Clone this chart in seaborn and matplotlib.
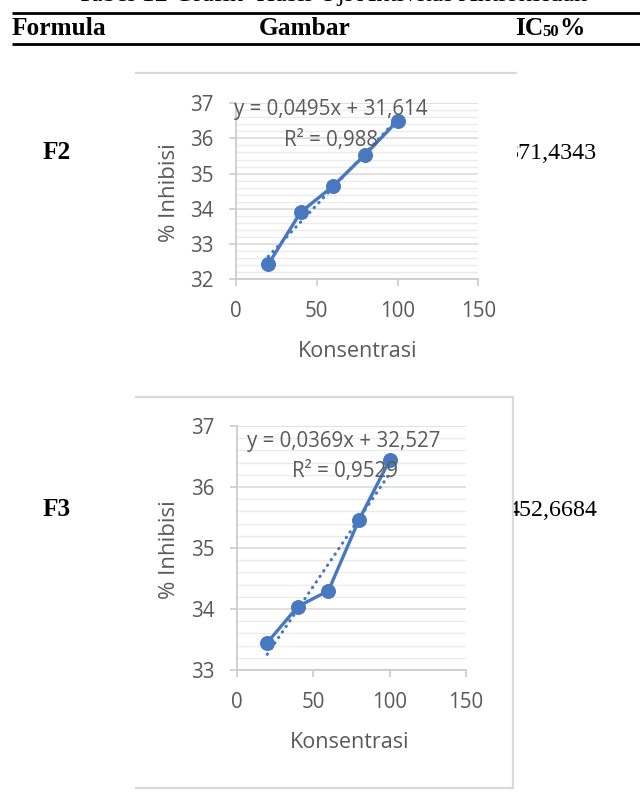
import matplotlib
matplotlib.use("Agg")
import matplotlib.pyplot as plt
import seaborn as sns
import numpy as np
from matplotlib.ticker import MultipleLocator
from matplotlib.patches import Rectangle
from matplotlib.lines import Line2D

# ---------------- data ----------------
konsentrasi = [20, 40, 60, 80, 100]
inhibisi_f2 = [32.42, 33.90, 34.64, 35.54, 36.50]
inhibisi_f3 = [33.45, 34.04, 34.30, 35.46, 36.44]
persamaan_f2 = "y = 0,0495x + 31,614"
r2_f2 = "R² = 0,988"
persamaan_f3 = "y = 0,0369x + 32,527"
r2_f3 = "R² = 0,9529"
formula_labels = ["F2", "F3"]
ic50_labels = ["371,4343", "452,6684"]
header_labels = ["Formula", "Gambar"]
title_text = "Tabel 12 Grafik  Hasil Uji Aktivitas Antioksidan"
x_ticks = [0, 50, 100, 150]

W, H = 640, 792
fig = plt.figure(figsize=(W / 100, H / 100), dpi=100)
fig.patch.set_facecolor("white")

plt.rcParams["font.family"] = ["Open Sans", "DejaVu Sans"]

SERIF = ["Liberation Serif", "DejaVu Serif"]
SANS = ["Open Sans", "DejaVu Sans"]
GRAY_TXT = "#595959"
BLUE = "#4878bf"
BORDER = "#d9d9d9"


def fx(x):
    return x / W


def fy(y):
    return 1 - y / H


def hline(x0, x1, y, color, lw, z=1.2):
    fig.add_artist(Line2D([fx(x0), fx(x1)], [fy(y), fy(y)], color=color, lw=lw,
                          transform=fig.transFigure, zorder=z, solid_capstyle="butt"))


def vline(x, y0, y1, color, lw, z=1.2):
    fig.add_artist(Line2D([fx(x), fx(x)], [fy(y0), fy(y1)], color=color, lw=lw,
                          transform=fig.transFigure, zorder=z, solid_capstyle="butt"))


# ---------------- table header ----------------
fig.text(fx(331.7), fy(0.8), title_text, family=SERIF, fontsize=18.9,
         ha="center", va="baseline", color="black")
hline(12, 640, 12.5, "black", 2.0)
hline(12, 640, 43.5, "black", 2.0)
fig.text(fx(11.7), fy(35), header_labels[0], family=SERIF, weight="bold",
         fontsize=18.3, ha="left", va="baseline")
fig.text(fx(259), fy(35), header_labels[1], family=SERIF, weight="bold",
         fontsize=18.3, ha="left", va="baseline")
fig.text(fx(515), fy(35), "IC", family=SERIF, weight="bold",
         fontsize=18.3, ha="left", va="baseline")
fig.text(fx(542), fy(36.5), "50", family=SERIF, weight="bold",
         fontsize=12.0, ha="left", va="baseline")
fig.text(fx(559), fy(35), "%", family=SERIF, weight="bold",
         fontsize=18.3, ha="left", va="baseline")

# row labels and IC50 values (partly hidden behind chart areas)
fig.text(fx(42.7), fy(159), formula_labels[0], family=SERIF, weight="bold",
         fontsize=18.3, ha="left", va="baseline")
fig.text(fx(42.7), fy(516), formula_labels[1], family=SERIF, weight="bold",
         fontsize=18.3, ha="left", va="baseline")
fig.text(fx(597), fy(159), ic50_labels[0], family=SERIF, fontsize=17.3,
         ha="right", va="baseline", zorder=0.5)
fig.text(fx(597), fy(515.7), ic50_labels[1], family=SERIF, fontsize=17.3,
         ha="right", va="baseline", zorder=0.5)

# chart areas (white, covering the start of the IC50 numbers)
fig.add_artist(Rectangle((fx(135), fy(390)), fx(516.5) - fx(135), fy(73) - fy(390),
                         transform=fig.transFigure, facecolor="white",
                         edgecolor="none", zorder=1))
hline(135, 517, 73, BORDER, 1.6)
fig.add_artist(Rectangle((fx(135), fy(788)), fx(513) - fx(135), fy(396) - fy(788),
                         transform=fig.transFigure, facecolor="white",
                         edgecolor="none", zorder=1))
hline(135, 514, 396.5, BORDER, 1.6)
hline(135, 514, 788, BORDER, 1.6)
vline(513, 396, 788, BORDER, 1.6)


def style_axes(ax, ylim):
    ax.set_facecolor("none")
    ax.set_xlim(0, 150)
    ax.set_ylim(*ylim)
    ax.set_xticks(x_ticks)
    ax.set_yticks(list(range(ylim[0], ylim[1] + 1)))
    ax.yaxis.set_minor_locator(MultipleLocator(0.2))
    ax.grid(False)
    ax.grid(which="minor", axis="y", color="#ebebeb", lw=1.0, zorder=0)
    ax.grid(which="major", axis="y", color="#d9d9d9", lw=1.1, zorder=0.1)
    ax.set_axisbelow(True)
    for s in ["top", "right"]:
        ax.spines[s].set_visible(False)
    for s in ["left", "bottom"]:
        ax.spines[s].set_color("#c8c8c8")
        ax.spines[s].set_linewidth(1.2)
    ax.tick_params(which="major", direction="out", length=5, width=1.1,
                   color="#c8c8c8", labelcolor=GRAY_TXT, labelsize=14.8, pad=11)
    ax.tick_params(which="minor", length=0)
    for lab in ax.get_xticklabels() + ax.get_yticklabels():
        lab.set_family(SANS)


def draw_chart(ax, y, eq, r2, ylim, eqpos, r2pos, xlabpos, ylabpos):
    sns.lineplot(x=konsentrasi, y=y, ax=ax, color=BLUE, lw=2.4, marker="o",
                 markersize=10, markeredgecolor=BLUE, markerfacecolor=BLUE,
                 zorder=3)
    sns.regplot(x=konsentrasi, y=y, ax=ax, scatter=False, ci=None, truncate=True,
                line_kws=dict(color=BLUE, lw=2.3, ls=(0, (0.1, 2.0)),
                              dash_capstyle="round", zorder=4))
    style_axes(ax, ylim)
    ax.text(*eqpos, eq, transform=ax.transAxes, ha="center", va="center",
            fontsize=14.8, color=GRAY_TXT, family=SANS, zorder=6)
    ax.text(*r2pos, r2, transform=ax.transAxes, ha="center", va="center",
            fontsize=14.8, color=GRAY_TXT, family=SANS, zorder=6)
    ax.set_xlabel("Konsentrasi", fontsize=15.5, color=GRAY_TXT, family=SANS)
    ax.set_ylabel("% Inhibisi", fontsize=16, color=GRAY_TXT, family=SANS)
    ax.xaxis.label.set_va("center")
    ax.yaxis.label.set_va("center")
    ax.xaxis.set_label_coords(*xlabpos)
    ax.yaxis.set_label_coords(*ylabpos)


ax1 = fig.add_axes([fx(236), fy(279), (478.3 - 236) / W, (279 - 103.3) / H], zorder=2)
draw_chart(ax1, inhibisi_f2, persamaan_f2, r2_f2, (32, 37),
           (0.392, 0.962), (0.394, 0.791), (0.501, -0.414), (-0.275, 0.492))

ax2 = fig.add_axes([fx(236.7), fy(670), (466 - 236.7) / W, (670 - 426) / H], zorder=2)
draw_chart(ax2, inhibisi_f3, persamaan_f3, r2_f3, (33, 37),
           (0.468, 0.936), (0.472, 0.813), (0.494, -0.299), (-0.294, 0.492))

fig.savefig("out.png", dpi=100)
